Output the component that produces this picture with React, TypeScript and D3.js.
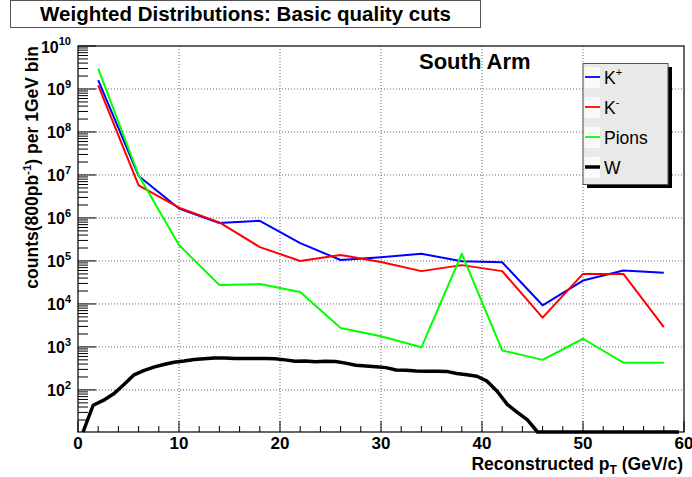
import React from "react";
import * as d3 from "d3";

const ptBins = [2, 6, 10, 14, 18, 22, 26, 30, 34, 38, 42, 46, 50, 54, 58];
const kPlus = [1.6e9, 9.5e6, 1.66e6, 7.6e5, 8.6e5, 2.6e5, 1.05e5, 1.22e5, 1.47e5, 9.8e4, 9.3e4, 9.3e3, 3.5e4, 6.0e4, 5.3e4];
const kMinus = [1.22e9, 5.7e6, 1.73e6, 7.9e5, 2.1e5, 1.0e5, 1.38e5, 9.5e4, 5.8e4, 8.0e4, 5.8e4, 4.8e3, 5.0e4, 5.0e4, 2.9e3];
const pions = [2.96e9, 9.9e6, 2.35e5, 2.75e4, 2.9e4, 1.9e4, 2.75e3, 1.78e3, 9.8e2, 1.47e5, 8.3e2, 5.0e2, 1.55e3, 4.3e2, 4.3e2];

const wPt = [0.5, 1.5, 2.5, 3.5, 4.5, 5.5, 6.5, 7.5, 8.5, 9.5, 10.5, 11.5, 12.5, 13.5, 14.5, 15.5, 16.5, 17.5, 18.5, 19.5, 20.5, 21.5, 22.5, 23.5, 24.5, 25.5, 26.5, 27.5, 28.5, 29.5, 30.5, 31.5, 32.5, 33.5, 34.5, 35.5, 36.5, 37.5, 38.5, 39.5, 40.5, 41.5, 42.5, 43.5, 44.5, 45.5, 46.5, 47.5, 48.5, 49.5, 50.5, 51.5, 52.5, 53.5, 54.5, 55.5, 56.5, 57.5, 58.5, 59.5];
const wBoson = [10, 44, 57, 80, 130, 220, 280, 340, 390, 440, 470, 510, 530, 555, 550, 535, 535, 535, 535, 530, 500, 465, 470, 455, 465, 460, 420, 375, 360, 345, 330, 290, 285, 275, 272, 272, 270, 240, 225, 208, 160, 93, 46, 30, 20, 0, 0, 0, 0, 0, 0, 0, 0, 0, 0, 0, 0, 0, 0, 0];

const xTickValues = [0, 10, 20, 30, 40, 50, 60];
const yDecades = [2, 3, 4, 5, 6, 7, 8, 9, 10];

const FONT = "'Liberation Sans', Arial, Helvetica, sans-serif";

export default function App() {
  const left = 78, right = 684, top = 46, bottom = 432;
  const yMin = 10.5, yMax = 1e10;
  const x = d3.scaleLinear().domain([0, 60]).range([left, right]);
  const y = d3.scaleLog().domain([yMin, yMax]).range([bottom, top]);

  const line = d3
    .line<[number, number]>()
    .x((d) => x(d[0]))
    .y((d) => y(Math.max(d[1], yMin)));

  const series = [
    { name: "K+", vals: kPlus, color: "#0000ff" },
    { name: "K-", vals: kMinus, color: "#ff0000" },
    { name: "Pions", vals: pions, color: "#00ff00" },
  ];

  const yMinor: number[] = [];
  for (let e = 1; e < 10; e++) {
    for (let m = 2; m <= 9; m++) {
      const v = m * Math.pow(10, e);
      if (v >= yMin && v <= yMax) yMinor.push(v);
    }
  }
  const xMinor: number[] = [];
  for (let v = 2; v < 60; v += 2) if (v % 10 !== 0) xMinor.push(v);

  const legendItems = [
    { label: "K", sup: "+", color: "#0000ff", w: 1.8 },
    { label: "K", sup: "-", color: "#ff0000", w: 1.8 },
    { label: "Pions", sup: "", color: "#00ff00", w: 1.8 },
    { label: "W", sup: "", color: "#000000", w: 3.5 },
  ];

  return (
    <svg
      width={692}
      height={477}
      style={{ position: "absolute", left: 0, top: 0, background: "#fff" }}
      fontFamily={FONT}
    >
      <rect x={0} y={0} width={692} height={477} fill="#fff" />
      {/* title box */}
      <rect x={10.5} y={0.5} width={470} height={27} fill="#fff" stroke="#555" strokeWidth={1} />
      <text x={245.5} y={21} textAnchor="middle" fontSize={20.5} fontWeight="bold" fill="#000">
        Weighted Distributions: Basic quality cuts
      </text>

      {/* grid */}
      {xTickValues.slice(1, -1).map((v) => (
        <line key={"gx" + v} x1={x(v)} x2={x(v)} y1={top} y2={bottom} stroke="#666" strokeDasharray="1,2" strokeWidth={1} />
      ))}
      {yDecades.slice(0, -1).map((e) => (
        <line key={"gy" + e} x1={left} x2={right} y1={y(Math.pow(10, e))} y2={y(Math.pow(10, e))} stroke="#666" strokeDasharray="1,2" strokeWidth={1} />
      ))}

      {/* data */}
      {series.map((s) => (
        <path
          key={s.name}
          d={line(ptBins.map((p, i) => [p, s.vals[i]] as [number, number])) || ""}
          fill="none"
          stroke={s.color}
          strokeWidth={2}
          strokeLinejoin="round"
        />
      ))}
      <path
        d={line(wPt.map((p, i) => [p, wBoson[i]] as [number, number])) || ""}
        fill="none"
        stroke="#000"
        strokeWidth={3.5}
        strokeLinejoin="round"
      />

      {/* frame */}
      <rect x={left} y={top} width={right - left} height={bottom - top} fill="none" stroke="#000" strokeWidth={1.2} />

      {/* y ticks */}
      {yDecades.map((e) => (
        <line key={"yt" + e} x1={left} x2={left + 18} y1={y(Math.pow(10, e))} y2={y(Math.pow(10, e))} stroke="#000" strokeWidth={1} />
      ))}
      {yMinor.map((v) => (
        <line key={"ym" + v} x1={left} x2={left + 10} y1={y(v)} y2={y(v)} stroke="#000" strokeWidth={1} />
      ))}
      {yDecades.map((e) => (
        <text key={"yl" + e} x={71} y={y(Math.pow(10, e)) + 6.5} textAnchor="end" fontSize={16} fontWeight="bold">
          10
          <tspan fontSize={11} dy={-7.5}>{e}</tspan>
        </text>
      ))}

      {/* x ticks */}
      {xTickValues.map((v) => (
        <line key={"xt" + v} x1={x(v)} x2={x(v)} y1={bottom} y2={bottom - 11} stroke="#000" strokeWidth={1} />
      ))}
      {xMinor.map((v) => (
        <line key={"xm" + v} x1={x(v)} x2={x(v)} y1={bottom} y2={bottom - 6} stroke="#000" strokeWidth={1} />
      ))}
      {xTickValues.map((v) => (
        <text key={"xl" + v} x={x(v)} y={449} textAnchor="middle" fontSize={17} fontWeight="bold">
          {v}
        </text>
      ))}

      {/* axis titles */}
      <text x={683} y={470} textAnchor="end" fontSize={17.5} fontWeight="bold">
        Reconstructed p
        <tspan fontSize={12} dy={4}>T</tspan>
        <tspan dy={-4}> (GeV/c)</tspan>
      </text>
      <text
        transform="translate(38,46) rotate(-90)"
        textAnchor="end"
        fontSize={17.5}
        fontWeight="bold"
      >
        counts(800pb
        <tspan fontSize={11.5} dy={-7}>-1</tspan>
        <tspan dy={7}>) per 1GeV bin</tspan>
      </text>

      {/* South Arm */}
      <text x={419} y={69} fontSize={22} fontWeight="bold">South Arm</text>

      {/* legend */}
      <rect x={587} y={67} width={85} height={121} fill="#000" />
      <rect x={583} y={63.5} width={85} height={121} fill="#e9e9e9" stroke="#555" strokeWidth={1} />
      {legendItems.map((it, i) => {
        const ly = 77 + i * 30;
        return (
          <g key={"lg" + i}>
            <rect x={584.5} y={ly - 10} width={15.5} height={21} fill="#fafafa" />
            <line x1={585} x2={600} y1={ly} y2={ly} stroke={it.color} strokeWidth={it.w} />
            <text x={604} y={ly + 7} fontSize={17.5} fill="#000">
              {it.label}
              {it.sup ? <tspan fontSize={11} dy={-8}>{it.sup}</tspan> : null}
            </text>
          </g>
        );
      })}
    </svg>
  );
}
